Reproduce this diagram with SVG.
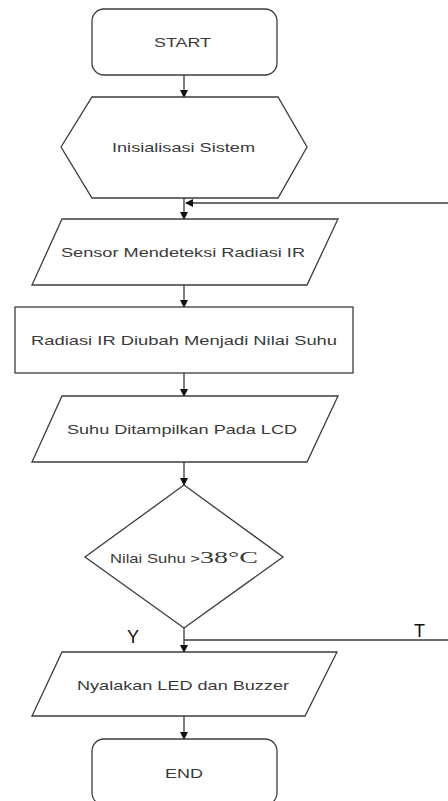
<svg xmlns="http://www.w3.org/2000/svg" width="448" height="801" viewBox="0 0 448 801">
<style>
.shape{fill:#ffffff;stroke:#3c3c3c;stroke-width:1.3}
.lbl{font-family:"Liberation Sans",Arial,sans-serif;font-size:13px;fill:#3a3a3a}
.edge{fill:none;stroke:#3c3c3c;stroke-width:1.3}
.yt{font-family:"Liberation Sans",Arial,sans-serif;font-size:18px;fill:#111}
</style>
<defs>
<marker id="arr" markerWidth="8" markerHeight="8" refX="7" refY="4" orient="auto" markerUnits="userSpaceOnUse">
<path d="M0,0 L8,4 L0,8 Z" fill="#111"/>
</marker>
</defs>
<rect width="448" height="801" fill="#ffffff"/>
<g id="connectors">
<line class="edge" x1="184" y1="75" x2="184" y2="97" marker-end="url(#arr)"/>
<line class="edge" x1="184" y1="198" x2="184" y2="219" marker-end="url(#arr)"/>
<line class="edge" x1="450" y1="203" x2="186" y2="203" marker-end="url(#arr)"/>
<line class="edge" x1="184" y1="285" x2="184" y2="307" marker-end="url(#arr)"/>
<line class="edge" x1="184" y1="373" x2="184" y2="396" marker-end="url(#arr)"/>
<line class="edge" x1="184" y1="462" x2="184" y2="485" marker-end="url(#arr)"/>
<line class="edge" x1="184" y1="628" x2="184" y2="652" marker-end="url(#arr)"/>
<line class="edge" x1="184" y1="640" x2="450" y2="640"/>
<line class="edge" x1="184" y1="716" x2="184" y2="739" marker-end="url(#arr)"/>
<text class="yt" x="127" y="643">Y</text>
<text class="yt" x="414" y="637">T</text>
</g>
<g id="start">
<rect class="shape" x="92" y="9" width="185" height="66" rx="12" ry="12"/>
<text class="lbl" x="154" y="47" textLength="57" lengthAdjust="spacingAndGlyphs">START</text>
</g>
<g id="init">
<polygon class="shape" points="61,147 92,97 278,97 307,147 278,198 92,198"/>
<text class="lbl" x="112" y="152" textLength="143" lengthAdjust="spacingAndGlyphs">Inisialisasi Sistem</text>
</g>
<g id="sensor">
<polygon class="shape" points="62,219 338,219 307,285 32,285"/>
<text class="lbl" x="61" y="257" textLength="244" lengthAdjust="spacingAndGlyphs">Sensor Mendeteksi Radiasi IR</text>
</g>
<g id="convert">
<rect class="shape" x="15" y="307" width="338" height="66"/>
<text class="lbl" x="31" y="345" textLength="306" lengthAdjust="spacingAndGlyphs">Radiasi IR Diubah Menjadi Nilai Suhu</text>
</g>
<g id="display">
<polygon class="shape" points="62,396 338,396 307,462 32,462"/>
<text class="lbl" x="67" y="434" textLength="230" lengthAdjust="spacingAndGlyphs">Suhu Ditampilkan Pada LCD</text>
</g>
<g id="decision">
<polygon class="shape" points="184,485 283,557 184,628 85,557"/>
<text class="lbl" x="110" y="563" textLength="90" lengthAdjust="spacingAndGlyphs">Nilai Suhu &gt;</text>
<text x="200" y="563" textLength="58" lengthAdjust="spacingAndGlyphs" style="font-family:'Liberation Serif','Times New Roman',serif;font-size:17px;fill:#3a3a3a">38°C</text>
</g>
<g id="alarm">
<polygon class="shape" points="62,652 337,652 305,716 32,716"/>
<text class="lbl" x="77" y="690" textLength="212" lengthAdjust="spacingAndGlyphs">Nyalakan LED dan Buzzer</text>
</g>
<g id="end">
<rect class="shape" x="92" y="739" width="185" height="66" rx="12" ry="12"/>
<text class="lbl" x="165" y="778" textLength="38" lengthAdjust="spacingAndGlyphs">END</text>
</g>
</svg>
